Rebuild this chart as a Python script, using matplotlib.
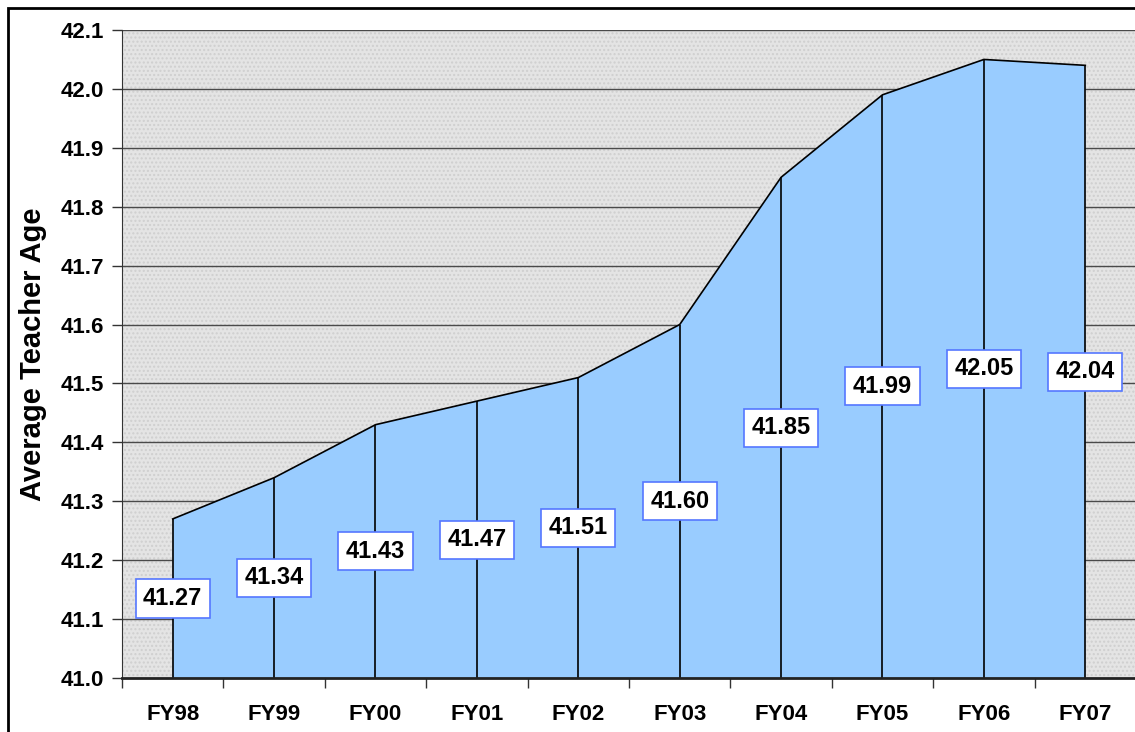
import matplotlib.pyplot as plt
from matplotlib.patches import Rectangle

years = ["FY98", "FY99", "FY00", "FY01", "FY02", "FY03", "FY04", "FY05", "FY06", "FY07"]
ages = [41.27, 41.34, 41.43, 41.47, 41.51, 41.60, 41.85, 41.99, 42.05, 42.04]
y_ticks = [41.0, 41.1, 41.2, 41.3, 41.4, 41.5, 41.6, 41.7, 41.8, 41.9, 42.0, 42.1]

plt.rcParams['font.family'] = ['Liberation Sans', 'DejaVu Sans']
plt.rcParams['font.weight'] = 'bold'

fig = plt.figure(figsize=(11.35, 7.32), dpi=100)
ax = fig.add_axes([122 / 1135, 1 - 678 / 732, 1014 / 1135, 648 / 732])

# outer chart border (only top and left visible in the crop)
fig.patches.append(Rectangle((8 / 1135, -0.1), 1.2, (724 / 732) + 0.1,
                             transform=fig.transFigure, fill=False,
                             edgecolor='black', linewidth=2))

ax.set_facecolor('#e4e4e4')
# dotted texture of the plot background
ax.add_patch(Rectangle((-0.5, 41.0), 10, 1.1, facecolor='none', edgecolor='#cfcfcf',
                       hatch='....', linewidth=0, zorder=0.5))

x = list(range(len(years)))
for yv in y_ticks[1:]:
    ax.axhline(yv, color='#4a4a4a', linewidth=1, zorder=1)

ax.fill_between(x, 41.0, ages, facecolor='#99ccff', edgecolor='none', zorder=2)
ax.plot(x, ages, color='black', linewidth=1.2, zorder=3)
ax.vlines(x, 41.0, ages, color='black', linewidth=1.2, zorder=3)

for xi, v in zip(x, ages):
    ax.text(xi, (41.0 + v) / 2, f"{v:.2f}", ha='center', va='center',
            fontsize=17, fontweight='bold', zorder=4,
            bbox=dict(boxstyle='square,pad=0.32', facecolor='white',
                      edgecolor='#5577ff', linewidth=1.2))

ax.set_xlim(-0.5, 9.5)
ax.set_ylim(41.0, 42.1)
ax.set_yticks(y_ticks)
ax.set_yticklabels([f"{t:.1f}" for t in y_ticks], fontsize=16, fontweight='bold')
ax.set_xticks(x)
ax.set_xticklabels(years, fontsize=16, fontweight='bold')
ax.set_xticks([i - 0.5 for i in range(len(years) + 1)], minor=True)
ax.tick_params(axis='x', which='major', length=0, pad=19)
ax.tick_params(axis='x', which='minor', length=7, width=1, color='#333333')
ax.tick_params(axis='y', length=7, width=1, color='#333333', pad=6)

ax.set_ylabel("Average Teacher Age", fontsize=21, fontweight='bold', labelpad=10)

for side in ['top', 'right']:
    ax.spines[side].set_visible(False)
ax.spines['left'].set_color('#333333')
ax.spines['bottom'].set_color('#222222')
ax.spines['bottom'].set_linewidth(2)
ax.spines['bottom'].set_zorder(5)

fig.savefig("out.png", dpi=100)
